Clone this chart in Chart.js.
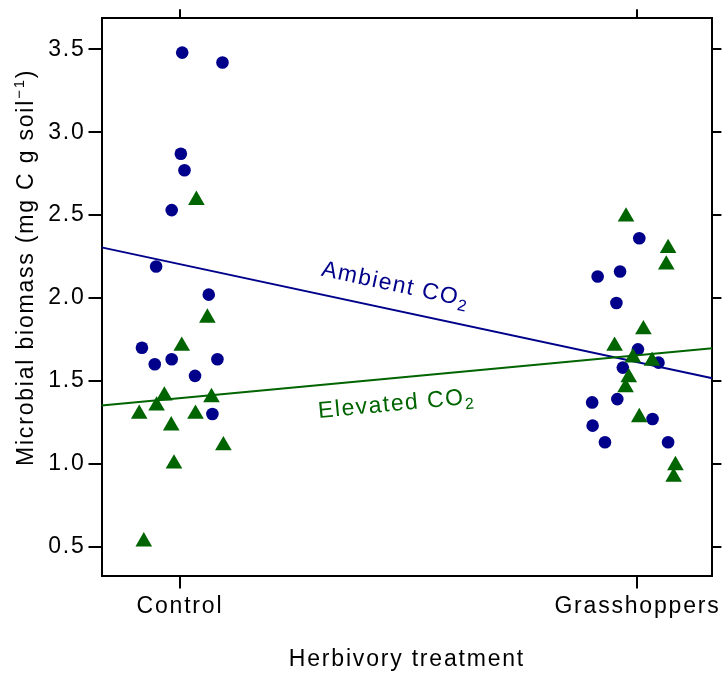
<!DOCTYPE html>
<html lang="en">
<head>
<meta charset="UTF-8">
<title>Microbial biomass</title>
<script src="https://cdn.jsdelivr.net/npm/chart.js@4"></script>
<style>
  body { margin: 0; background: #fff; }
  #grafico { display: block; }
</style>
</head>
<body>
<canvas id="grafico" width="722" height="673"></canvas>
<script>
// categories on the x axis (placed at x = 1 and x = 2)
const categories = ['Control', 'Grasshoppers'];
const yTicks = [0.5, 1.0, 1.5, 2.0, 2.5, 3.0, 3.5];

// ambient CO2 (circles): jitter offset from the category + value
const ctrlAmbJit = [0.005, 0.093, 0.002, 0.010, -0.018, -0.052, 0.063, -0.083, -0.055, -0.018, 0.082, 0.033, 0.071];
const ctrlAmbVal = [3.48, 3.42, 2.87, 2.77, 2.53, 2.19, 2.02, 1.70, 1.60, 1.63, 1.63, 1.53, 1.30];
const grassAmbJit = [0.004, -0.038, -0.087, -0.046, 0.001, 0.046, -0.032, -0.044, -0.099, 0.033, -0.098, -0.071, 0.067];
const grassAmbVal = [2.36, 2.16, 2.13, 1.97, 1.69, 1.61, 1.58, 1.39, 1.37, 1.27, 1.23, 1.13, 1.13];

// elevated CO2 (triangles)
const ctrlElevJit = [0.036, 0.060, 0.004, -0.034, 0.069, -0.051, -0.089, 0.034, -0.019, 0.095, -0.013, -0.079];
const ctrlElevVal = [2.59, 1.88, 1.71, 1.41, 1.40, 1.35, 1.30, 1.30, 1.23, 1.11, 1.00, 0.53];
const grassElevJit = [-0.025, 0.067, 0.063, 0.013, -0.050, -0.010, 0.032, -0.019, -0.026, 0.004, 0.083, 0.079];
const grassElevVal = [2.49, 2.30, 2.20, 1.81, 1.71, 1.64, 1.62, 1.52, 1.46, 1.28, 0.99, 0.92];

// fitted regression values at Control and Grasshoppers
const ambientFit = [2.204, 1.613];
const elevatedFit = [1.396, 1.655];

const blue = '#00008B';
const green = '#006400';
const xMin = 0.8286, xMax = 2.1638;
const yMin = 0.326, yMax = 3.687;
const fontFam = "'Liberation Sans', Arial, sans-serif";
const spacing = '1.8px';

function jittered(jit, val, cat) {
    return val.map((v, i) => ({ x: cat + 1 + jit[i], y: v }));
}

function fitAt(fit, x) {
    return fit[0] + (x - 1) * (fit[1] - fit[0]);
}

function fitLine(fit) {
    return [{ x: xMin, y: fitAt(fit, xMin) }, { x: xMax, y: fitAt(fit, xMax) }];
}

const ambientPts = jittered(ctrlAmbJit, ctrlAmbVal, 0).concat(jittered(grassAmbJit, grassAmbVal, 1));
const elevatedPts = jittered(ctrlElevJit, ctrlElevVal, 0).concat(jittered(grassElevJit, grassElevVal, 1));

// y title with superscript and the CO2 labels along the lines
const textPlugin = {
    id: 'textPlugin',
    beforeDraw(chart) {
        chart.ctx.letterSpacing = spacing;
    },
    afterDraw(chart) {
        const ctx = chart.ctx;
        const xs = chart.scales.x, ys = chart.scales.y;
        ctx.save();
        ctx.letterSpacing = spacing;
        ctx.textBaseline = 'alphabetic';
        ctx.textAlign = 'left';

        // y axis title
        ctx.save();
        ctx.translate(33, 466);
        ctx.rotate(-Math.PI / 2);
        ctx.fillStyle = '#000';
        ctx.font = '23px ' + fontFam;
        const main = 'Microbial biomass (mg C g soil';
        ctx.fillText(main, 0, 0);
        let w = ctx.measureText(main).width;
        ctx.font = '15px ' + fontFam;
        ctx.fillText('\u22121', w, -9);
        w += ctx.measureText('\u22121').width;
        ctx.font = '23px ' + fontFam;
        ctx.fillText(')', w, 0);
        ctx.restore();

        // labels along the fitted lines
        const drawLabel = (fit, text, xVal, dy, color) => {
            const x0 = xs.getPixelForValue(1), y0 = ys.getPixelForValue(fit[0]);
            const x1 = xs.getPixelForValue(2), y1 = ys.getPixelForValue(fit[1]);
            const ang = Math.atan2(y1 - y0, x1 - x0);
            const px = xs.getPixelForValue(xVal);
            const py = ys.getPixelForValue(fitAt(fit, xVal)) + dy;
            ctx.save();
            ctx.translate(px, py);
            ctx.rotate(ang);
            ctx.fillStyle = color;
            ctx.letterSpacing = '1.5px';
            ctx.font = '23px ' + fontFam;
            ctx.fillText(text, 0, 0);
            const tw = ctx.measureText(text).width;
            ctx.font = '16px ' + fontFam;
            ctx.fillText('2', tw, 5);
            ctx.restore();
        };
        drawLabel(ambientFit, 'Ambient CO', 1.307, -18.7, blue);
        drawLabel(elevatedFit, 'Elevated CO', 1.3035, 32.8, green);
        ctx.restore();
    }
};

const tickFont = { family: fontFam, size: 23 };
const gridOpts = (len) => ({ drawOnChartArea: false, drawTicks: true, tickLength: len, color: '#000', lineWidth: 2 });
const borderOpts = { display: true, color: '#000', width: 2 };
const setX = s => { s.ticks = [1, 2].map(v => ({ value: v })); };
const setY = s => { s.ticks = yTicks.map(v => ({ value: v })); };

Chart.defaults.color = '#000';
Chart.defaults.font.family = fontFam;

const config = {
    type: 'scatter',
    data: {
        datasets: [
            {
                label: 'Elevated fit', type: 'line', data: fitLine(elevatedFit),
                borderColor: green, borderWidth: 2, pointRadius: 0, fill: false, order: 1
            },
            {
                label: 'Elevated CO2', data: elevatedPts, pointStyle: 'triangle', pointRadius: 9.6,
                backgroundColor: green, borderWidth: 0, order: 2
            },
            {
                label: 'Ambient fit', type: 'line', data: fitLine(ambientFit),
                borderColor: blue, borderWidth: 2, pointRadius: 0, fill: false, order: 3
            },
            {
                label: 'Ambient CO2', data: ambientPts, pointStyle: 'circle', pointRadius: 6.3,
                backgroundColor: blue, borderWidth: 0, order: 4
            }
        ]
    },
    options: {
        responsive: false,
        animation: false,
        layout: { padding: 0 },
        plugins: { legend: { display: false }, tooltip: { enabled: false } },
        scales: {
            x: {
                type: 'linear', position: 'bottom', min: xMin, max: xMax,
                afterBuildTicks: setX,
                afterFit: s => { s.height = 97.5; },
                ticks: { callback: v => categories[v - 1], font: tickFont, padding: 4, maxRotation: 0, autoSkip: false },
                grid: gridOpts(13),
                border: borderOpts,
                title: { display: true, text: 'Herbivory treatment', font: tickFont, padding: 0 }
            },
            xTop: {
                type: 'linear', position: 'top', min: xMin, max: xMax,
                afterBuildTicks: setX,
                afterFit: s => { s.height = 18.3; },
                ticks: { display: false },
                grid: gridOpts(9),
                border: borderOpts
            },
            y: {
                type: 'linear', position: 'left', min: yMin, max: yMax,
                afterBuildTicks: setY,
                afterFit: s => { s.width = 101.5; },
                ticks: { callback: v => v.toFixed(1), font: tickFont, padding: 3 },
                grid: gridOpts(13),
                border: borderOpts
            },
            yRight: {
                type: 'linear', position: 'right', min: yMin, max: yMax,
                afterBuildTicks: setY,
                afterFit: s => { s.width = 9; },
                ticks: { display: false },
                grid: gridOpts(9),
                border: borderOpts
            }
        }
    },
    plugins: [textPlugin]
};

new Chart(document.getElementById('grafico').getContext('2d'), config);
</script>
</body>
</html>
